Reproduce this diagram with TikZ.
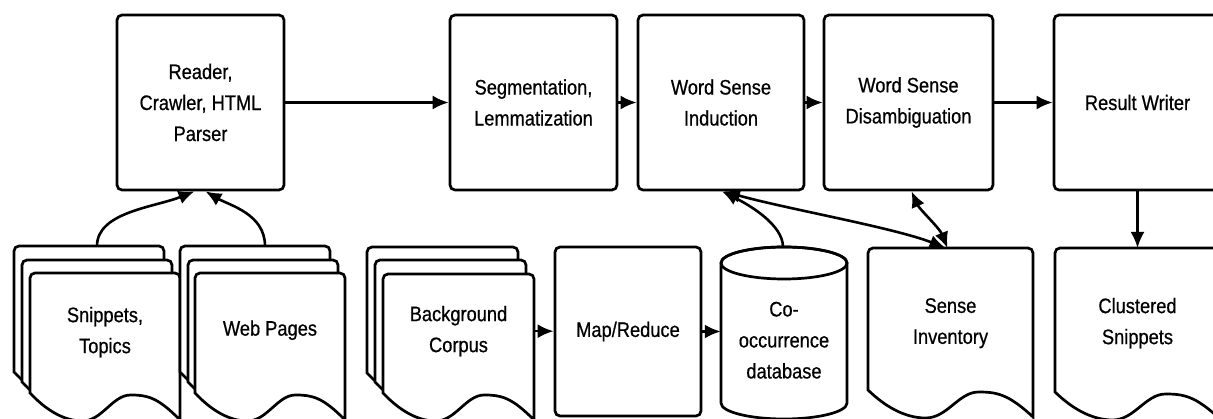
\documentclass[tikz,border=0pt]{standalone}
\usepackage{fontspec}
\setmainfont{Liberation Sans}[FakeStretch=0.87,FakeBold=0.6]
\usetikzlibrary{arrows.meta}

\newcommand\lbl{\fontsize{21}{31}\selectfont}

\tikzset{
  outline/.style={line width=2.7pt, draw=black},
  procbox/.style={outline, rounded corners=5pt, fill=white, align=center, font=\lbl, inner sep=0pt},
  docnode/.style={inner sep=0pt, align=center, font=\lbl},
  tip/.style={Latex[length=16pt,width=14pt]},
  arr/.style={line width=2.6pt, -{Latex[length=16pt,width=14pt]}},
  darr/.style={line width=2.6pt, {Latex[length=16pt,width=14pt]}-{Latex[length=16pt,width=14pt]}},
}

% document sheet with a wavy lower edge:
% #1 name, #2 left x, #3 top y, #4 width, #5 left edge length, #6 text offset, #7 text
\newcommand\docsheet[7]{%
  \draw[outline, fill=white] ({#2},{#3+#5}) -- ({#2},{#3+5})
    arc[start angle=180,end angle=90,radius=5pt] -- ({#2+#4-5},{#3})
    arc[start angle=90,end angle=0,radius=5pt] -- ({#2+#4},{#3+#5+27})
    .. controls ({#2+0.85*#4},{#3+#5+4}) and ({#2+0.78*#4},{#3+#5+2}) .. ({#2+0.67*#4},{#3+#5+2})
    .. controls ({#2+0.55*#4},{#3+#5+2}) and ({#2+0.48*#4},{#3+#5+28}) .. ({#2+0.35*#4},{#3+#5+28})
    .. controls ({#2+0.22*#4},{#3+#5+28}) and ({#2+0.1*#4},{#3+#5+16}) .. ({#2},{#3+#5}) -- cycle;
  \node[docnode, minimum width=#4pt, minimum height=2*#6pt, anchor=north] (#1) at ({#2+#4/2},{#3}) {#7};
}

\begin{document}
\begin{tikzpicture}[x=1pt,y=-1pt]
\useasboundingbox (0,0) rectangle (1213,419);
\clip (0,0) rectangle (1213,419);

% input document stacks
\docsheet{snipA}{14}{246}{150}{126}{58}{}
\docsheet{snipB}{22}{260}{150}{122}{58}{}
\docsheet{snipC}{30}{273}{150}{120}{59}{Snippets,\\Topics}
\docsheet{webA}{180}{246}{150}{126}{58}{}
\docsheet{webB}{188}{260}{150}{122}{58}{}
\docsheet{webC}{195}{273}{150}{120}{57}{Web Pages}
\docsheet{bcA}{367}{247}{151}{126}{57}{}
\docsheet{bcB}{375}{260}{151}{122}{57}{}
\docsheet{bcC}{383}{274}{151}{119}{57}{Background\\Corpus}

% single documents
\docsheet{si}{868}{248}{165}{142}{75}{Sense\\Inventory}
\docsheet{cs}{1055}{248}{165}{144}{75}{Clustered\\Snippets}

% processing steps
\node[procbox, minimum width=167pt, minimum height=175pt] (reader) at (200.5,102.5) {Reader,\\Crawler, HTML\\Parser};
\node[procbox, minimum width=167pt, minimum height=175pt] (seg) at (533.5,102.5) {Segmentation,\\Lemmatization};
\node[procbox, minimum width=166pt, minimum height=175pt] (wsi) at (721,102.5) {Word Sense\\Induction};
\node[procbox, minimum width=169pt, minimum height=175pt] (wsd) at (908.5,102.5) {Word Sense\\Disambiguation};
\node[procbox, minimum width=167pt, minimum height=175pt] (rw) at (1137.5,102.5) {Result Writer};
\node[procbox, minimum width=146pt, minimum height=169pt] (mr) at (628,331.5) {Map/Reduce};

% co-occurrence database cylinder
\draw[outline, fill=white] (721,263) -- (721,403)
  arc[start angle=180,end angle=360,x radius=63pt,y radius=16pt] -- (847,263)
  arc[start angle=0,end angle=180,x radius=63pt,y radius=16pt] -- cycle;
\draw[outline] (784,263) ellipse [x radius=63pt, y radius=16pt];
\node[docnode, minimum width=126pt, minimum height=186pt, anchor=north] (cyl) at (784,247) {Co-\\occurrence\\database};

% main pipeline
\draw[arr] (reader) -- (seg);
\draw[arr] (seg) -- (wsi);
\draw[arr] (wsi) -- (wsd);
\draw[arr] (wsd) -- (rw);
\draw[arr] (rw.south) -- (rw.south |- cs.north);

% inputs to the reader
\draw[arr] ([xshift=8pt]snipA.north) .. controls +(0,-34) and +(-40,16) .. ([xshift=-6pt]reader.south);
\draw[arr] ([xshift=10pt]webA.north) .. controls +(0,-32) and +(24,14) .. ([xshift=5pt]reader.south);

% background corpus processing
\draw[arr] (bcC.east) -- (bcC.east -| mr.west);
\draw[arr] (mr.east) -- (mr.east -| cyl.west);

% links to induction and disambiguation
\draw[arr] ([xshift=-1pt]cyl.north) .. controls +(0,-22) and +(28,14) .. ([xshift=1pt]wsi.south);
\draw[darr] ([xshift=3pt]wsi.south) .. controls +(60,17) and +(-50,-20) .. ([xshift=-5pt]si.north);
\draw[darr] ([xshift=3pt]wsd.south) .. controls +(8,18) and +(-8,-20) .. ([xshift=-3pt]si.north);
\end{tikzpicture}
\end{document}
